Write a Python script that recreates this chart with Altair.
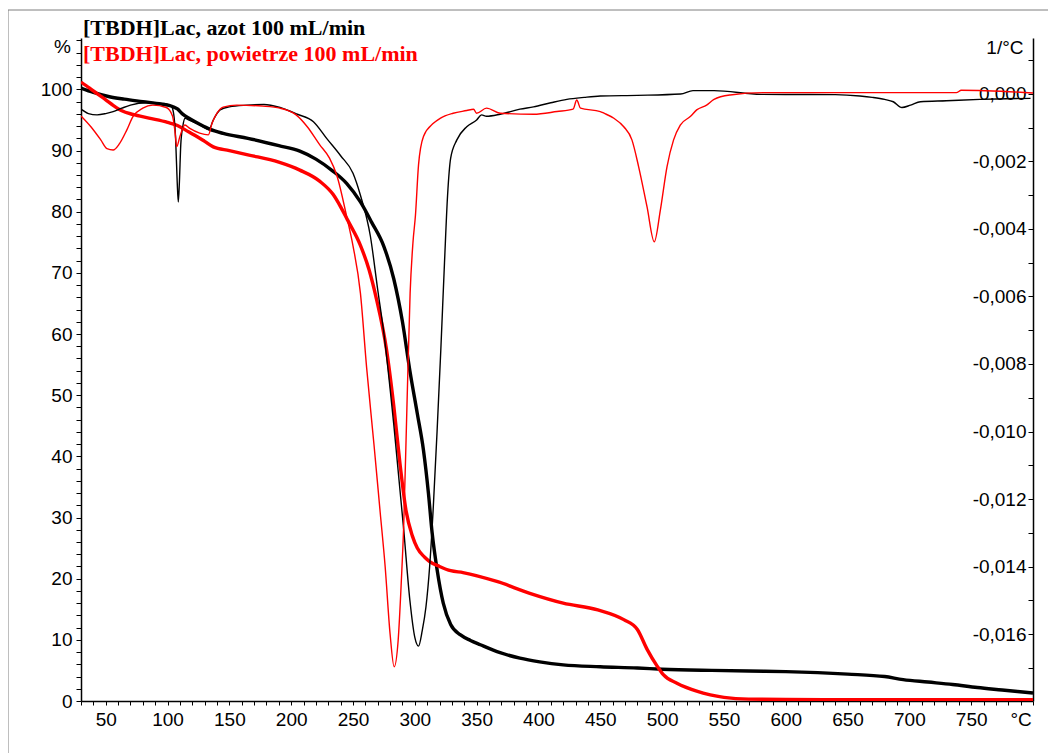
import altair as alt
import pandas as pd

# ---------------- data ----------------
# TG, nitrogen (black, thick) : temperature [°C], mass [%]
tg_n_T = [30, 40, 53, 65, 80, 95, 104, 108, 112, 118, 126, 134, 145, 165, 190, 207, 220,
          234, 245, 256, 265, 275, 283, 290, 296, 302, 307, 311, 314, 318, 323, 329, 337,
          345, 353, 369, 385, 401, 420, 450, 480, 500, 540, 570, 600, 650, 680, 695, 715,
          735, 755, 775, 800]
tg_n_val = [100.2, 99.5, 98.8, 98.4, 98.0, 97.6, 97.2, 96.8, 96.0, 95.2, 94.3, 93.5, 92.8,
            92.0, 90.8, 89.9, 88.6, 86.6, 84.6, 81.6, 78.3, 74.3, 69.0, 62.0, 54.0, 47.0,
            41.0, 34.0, 27.5, 21.5, 16.0, 12.5, 10.8, 9.9, 9.2, 7.9, 7.0, 6.4, 5.9, 5.6,
            5.4, 5.2, 5.0, 4.9, 4.8, 4.4, 4.0, 3.5, 3.1, 2.7, 2.2, 1.8, 1.3]

# TG, air (red, thick)
tg_air_T = [30, 37, 43, 50, 56, 63, 72, 85, 100, 108, 115, 122, 130, 137, 150, 165, 190,
            207, 223, 234, 240, 246, 256, 263, 269, 277, 283, 288, 293, 298, 302, 308, 312,
            320, 329, 339, 367, 393, 420, 448, 469, 480, 488, 496, 501, 512, 528, 539, 550,
            570, 600, 700, 800]
tg_air_val = [101.2, 100.2, 99.3, 98.3, 97.4, 96.5, 95.9, 95.3, 94.6, 94.1, 93.3, 92.5, 91.5,
              90.6, 90.0, 89.3, 88.1, 86.8, 85.0, 82.8, 80.8, 78.5, 74.5, 70.5, 65.7, 57.6,
              48.2, 38.8, 31.0, 27.0, 25.0, 23.5, 22.8, 22.0, 21.3, 21.0, 19.5, 17.6, 16.0,
              14.9, 13.3, 11.7, 8.4, 5.7, 4.3, 2.9, 1.6, 1.0, 0.6, 0.3, 0.25, 0.2, 0.2]

# DTG, nitrogen (black, thin) : 1/°C
dtg_n_T = [30, 36, 43, 50, 56, 63, 70, 83, 97, 103, 105, 106.5, 107.8, 108.7, 109.6, 110.7,
           112.3, 114.2, 117, 124, 131, 133.5, 137, 142.5, 150, 164, 178, 191, 205, 218, 229,
           240, 250, 256, 264, 270, 275, 283, 291, 296, 300, 303, 306, 309, 312, 315, 318,
           321, 324, 326.5, 329, 334, 342, 350, 354, 358, 369, 385, 396, 410, 423, 437, 450,
           480, 515, 525, 542, 580, 640, 660, 670, 680, 687, 694, 701, 709, 730, 757, 798]
dtg_n_val = [-0.00045, -0.00058, -0.00062, -0.00058, -0.00052, -0.00042, -0.00033, -0.00026,
             -0.00028, -0.00036, -0.00060, -0.0013, -0.0026, -0.0032, -0.0026, -0.0015,
             -0.00097, -0.00072, -0.00077, -0.00087, -0.00102, -0.00105, -0.00077, -0.00047,
             -0.00038, -0.00033, -0.00031, -0.00040, -0.00060, -0.00082, -0.00133, -0.00183,
             -0.00235, -0.00300, -0.00420, -0.0058, -0.0071, -0.0098, -0.0129, -0.0150,
             -0.0161, -0.01636, -0.0159, -0.0152, -0.0140, -0.0122, -0.0100, -0.0076,
             -0.0050, -0.0030, -0.0019, -0.00136, -0.00097, -0.00077, -0.00062, -0.00066,
             -0.00060, -0.00045, -0.00038, -0.00026, -0.00016, -0.00010, -0.00006, -0.00004,
             0.0, 0.0001, 0.0001, -0.00001, -0.00002, -0.00006, -0.0001, -0.00016, -0.00023,
             -0.0004, -0.00033, -0.00023, -0.0002, -0.00016, -0.00013]

# DTG, air (red, thin)
dtg_air_T = [30, 38, 46, 51, 56, 61, 67, 72, 80, 88, 99, 104, 106, 107.4, 110, 114, 118, 126,
             133, 136, 140, 145, 156, 177, 191, 204, 213, 223, 231, 237, 245, 250, 256, 261,
             267, 272, 276, 280, 283.3, 286.5, 289, 291, 293.6, 296.2, 298.5, 300.5, 303,
             307, 315, 320.5, 331, 342, 347.5, 350, 358, 369, 396, 415, 428, 431, 434, 450,
             453, 461, 469, 475.6, 481, 487.8, 493.7, 498.6, 504, 509.3, 514.7, 522.8, 528,
             536, 542, 555, 582, 640, 700, 738, 742, 800]
dtg_air_val = [-0.00065, -0.00097, -0.00136, -0.00162, -0.00166, -0.00148, -0.00107,
               -0.00067, -0.00042, -0.00033, -0.00040, -0.00065, -0.0011, -0.00156, -0.00126,
               -0.00092, -0.00102, -0.00116, -0.00121, -0.00087, -0.00057, -0.00039,
               -0.00033, -0.00036, -0.00042, -0.00062, -0.00097, -0.00150, -0.00190,
               -0.00242, -0.00365, -0.0045, -0.0059, -0.0081, -0.0104, -0.0124, -0.0140,
               -0.0160, -0.01697, -0.0162, -0.0145, -0.0128, -0.0093, -0.0059, -0.0044,
               -0.0036, -0.0021, -0.00126, -0.00087, -0.00072, -0.00057, -0.00049, -0.00045,
               -0.00057, -0.00042, -0.00057, -0.0006, -0.00052, -0.00045, -0.00018, -0.00042,
               -0.00052, -0.00057, -0.00072, -0.00097, -0.00136, -0.00215, -0.00334,
               -0.00438, -0.00344, -0.00215, -0.00136, -0.00092, -0.00067, -0.00047,
               -0.00033, -0.00016, -0.00003, 0.00004, 0.00004, 0.00004, 0.00004, 0.00011,
               0.00003]

series_names = ["azot", "powietrze"]
title_n = "[TBDH]Lac, azot 100 mL/min"
title_air = "[TBDH]Lac, powietrze 100 mL/min"

x_ticks = list(range(30, 801, 10))
left_ticks = list(range(0, 109, 2))
right_ticks = [round(-0.017 + 0.001 * i, 3) for i in range(19)]

# ---------------- tables ----------------
tg_df = pd.concat([
    pd.DataFrame({"T": tg_n_T, "v": tg_n_val, "series": series_names[0]}),
    pd.DataFrame({"T": tg_air_T, "v": tg_air_val, "series": series_names[1]}),
])
dtg_df = pd.concat([
    pd.DataFrame({"T": dtg_n_T, "v": dtg_n_val, "series": series_names[0]}),
    pd.DataFrame({"T": dtg_air_T, "v": dtg_air_val, "series": series_names[1]}),
])

W, H = 952, 663
FONT = "Liberation Sans"
RED = "#ff0000"

x_scale = alt.Scale(domain=[30, 800], nice=False, zero=False)
color = alt.Color("series:N", scale=alt.Scale(domain=series_names, range=["#000000", RED]),
                  legend=None)

x_axis = alt.Axis(
    orient="bottom",
    values=x_ticks,
    labelExpr="datum.value == 790 ? '°C' : ((datum.value % 50 == 0 && datum.value < 800) ? datum.label : '')",
    tickSize=4, tickColor="black", tickWidth=1,
    domainColor="black", domainWidth=1.5,
    labelFont=FONT, labelFontSize=19, labelColor="black", labelPadding=5,
    labelFlush=False, labelOverlap=False, labelBound=False, grid=False, title=None,
)

left_axis = alt.Axis(
    orient="left",
    values=left_ticks,
    labelExpr="(datum.value % 10 == 0 && datum.value <= 100) ? datum.label : ''",
    tickSize=5, tickColor="black", tickWidth=1,
    domainColor="black", domainWidth=1.5,
    labelFont=FONT, labelFontSize=19, labelColor="black", labelPadding=4,
    labelFlush=False, labelOverlap=False, grid=False,
    title="%", titleAngle=0, titleX=-19, titleY=14, titleAlign="center",
    titleBaseline="alphabetic", titleFont=FONT, titleFontSize=19, titleFontWeight="normal",
    titleColor="black",
)

right_axis = alt.Axis(
    orient="left", offset=-W,
    values=right_ticks,
    labelExpr="abs(round(datum.value*1000)) % 2 == 0 ? ((datum.value < -0.0000001 ? '-' : '') + replace(format(abs(datum.value), '.3f'), '.', ',')) : ''",
    tickSize=5, tickColor="black", tickWidth=1,
    domainColor="black", domainWidth=1.5,
    labelFont=FONT, labelFontSize=19, labelColor="black", labelPadding=2,
    labelFlush=False, labelOverlap=False, grid=False,
    title="1/°C", titleAngle=0, titleX=-10, titleY=15, titleAlign="right",
    titleBaseline="alphabetic", titleFont=FONT, titleFontSize=19, titleFontWeight="normal",
    titleColor="black",
)

tg_chart = alt.Chart(tg_df).mark_line(strokeWidth=3.4, interpolate="monotone", clip=True).encode(
    x=alt.X("T:Q", scale=x_scale, axis=x_axis),
    y=alt.Y("v:Q", scale=alt.Scale(domain=[0, 108.4], nice=False, zero=False), axis=left_axis),
    color=color,
)

dtg_chart = alt.Chart(dtg_df).mark_line(strokeWidth=1.4, interpolate="monotone", clip=True).encode(
    x=alt.X("T:Q", scale=x_scale, axis=x_axis),
    y=alt.Y("v:Q", scale=alt.Scale(domain=[-0.017985, 0.001659], nice=False, zero=False),
            axis=right_axis),
    color=color,
)

one = pd.DataFrame({"k": [0]})
frame = alt.Chart(one).mark_rect(fill="transparent", stroke="#7f7f7f", strokeWidth=1).encode(
    x=alt.value(-73), x2=alt.value(1000), y=alt.value(-28), y2=alt.value(740)
)

t1 = alt.Chart(one).mark_text(text=title_n, font="Liberation Serif", fontWeight="bold",
                              fontSize=22, color="black", align="left",
                              baseline="alphabetic").encode(x=alt.value(2), y=alt.value(-3))
t2 = alt.Chart(one).mark_text(text=title_air, font="Liberation Serif", fontWeight="bold",
                              fontSize=22, color=RED, align="left",
                              baseline="alphabetic").encode(x=alt.value(2), y=alt.value(23))

chart = alt.layer(tg_chart, dtg_chart, frame, t1, t2).resolve_scale(
    y="independent"
).properties(
    width=W, height=H,
    autosize=alt.AutoSizeParams(type="none"),
    padding={"left": 73, "top": 30, "right": 15, "bottom": 52},
    background="white",
).configure_view(strokeWidth=0)

chart.save("out.html", embed_options={"renderer": "svg", "actions": False})
